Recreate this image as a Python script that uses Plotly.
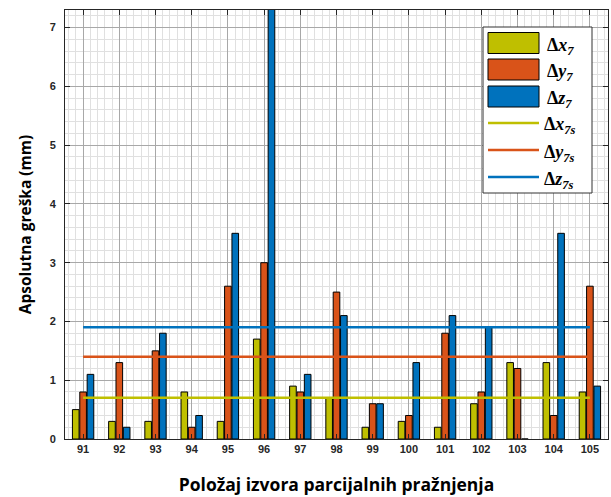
import plotly.graph_objects as go

positions = [91, 92, 93, 94, 95, 96, 97, 98, 99, 100, 101, 102, 103, 104, 105]
dx7 = [0.5, 0.3, 0.3, 0.8, 0.3, 1.7, 0.9, 0.7, 0.2, 0.3, 0.2, 0.6, 1.3, 1.3, 0.8]
dy7 = [0.8, 1.3, 1.5, 0.2, 2.6, 3.0, 0.8, 2.5, 0.6, 0.4, 1.8, 0.8, 1.2, 0.4, 2.6]
dz7 = [1.1, 0.2, 1.8, 0.4, 3.5, 7.6, 1.1, 2.1, 0.6, 1.3, 2.1, 1.9, 0.0, 3.5, 0.9]
mean_x = 0.7
mean_y = 1.4
mean_z = 1.9
ytick_vals = [0, 1, 2, 3, 4, 5, 6, 7]

c_x = "#BFBF00"
c_y = "#D95319"
c_z = "#0072BD"

W, H = 611, 497
ML, MR, MT, MB = 65, 3, 10, 58
PW, PH = W - ML - MR, H - MT - MB


def lab(v, sub):
    return "<b>Δ<i>%s</i><sub><i>%s</i></sub></b>" % (v, sub)


def px(xp):
    return (xp - ML) / PW


def py(yp):
    return (H - MB - yp) / PH


fig = go.Figure()
series = [(dx7, c_x, "x"), (dy7, c_y, "y"), (dz7, c_z, "z")]
for vals, col, name in series:
    fig.add_trace(go.Bar(x=positions, y=vals, name="Δ" + name + "7", showlegend=False,
                         marker=dict(color=col, line=dict(color="black", width=1))))

means = [(mean_x, c_x, "x"), (mean_y, c_y, "y"), (mean_z, c_z, "z")]
for m, col, name in means:
    fig.add_trace(go.Scatter(x=[positions[0], positions[-1]], y=[m, m], mode="lines",
                             name="Δ" + name + "7s", showlegend=False,
                             line=dict(color=col, width=2.5)))

# custom legend (box, swatches, labels) in paper coordinates
shapes = [dict(type="rect", xref="paper", yref="paper", x0=px(483), x1=px(592), y0=py(193), y1=py(27),
               fillcolor="white", line=dict(color="#333333", width=1), layer="above")]
annotations = []
bar_centers = [43, 69.5, 96.5]
line_centers = [123, 150, 177]
for (vals, col, name), cy in zip(series, bar_centers):
    shapes.append(dict(type="rect", xref="paper", yref="paper", x0=px(488), x1=px(539),
                       y0=py(cy + 10.5), y1=py(cy - 10.5), fillcolor=col,
                       line=dict(color="black", width=1), layer="above"))
    annotations.append(dict(xref="paper", yref="paper", x=px(545), y=py(cy + 3), xanchor="left",
                            yanchor="middle", showarrow=False, text=lab(name, "7"),
                            font=dict(family="Liberation Serif", size=18, color="black")))
for (m, col, name), cy in zip(means, line_centers):
    shapes.append(dict(type="line", xref="paper", yref="paper", x0=px(488), x1=px(539),
                       y0=py(cy), y1=py(cy), line=dict(color=col, width=2.5), layer="above"))
    annotations.append(dict(xref="paper", yref="paper", x=px(542), y=py(cy + 3), xanchor="left",
                            yanchor="middle", showarrow=False, text=lab(name, "7s"),
                            font=dict(family="Liberation Serif", size=18, color="black")))

tickfont = dict(family="Liberation Sans", size=11, color="#262626", weight="bold")
xtitlefont = dict(family="Open Sans", size=17.5, color="black", weight="bold")
ytitlefont = dict(family="Open Sans", size=15.5, color="black", weight="bold")

fig.update_layout(
    width=W, height=H,
    margin=dict(l=ML, r=MR, t=MT, b=MB),
    paper_bgcolor="white", plot_bgcolor="white",
    barmode="group", bargap=0.39, bargroupgap=0.1,
    showlegend=False,
    shapes=shapes, annotations=annotations,
    xaxis=dict(range=[90.5, 105.5], tickvals=positions, ticktext=[str(p) for p in positions],
               tickfont=tickfont, ticks="inside", ticklen=5, tickcolor="#262626",
               showline=True, linecolor="#262626", linewidth=1, mirror="ticks",
               showgrid=True, gridcolor="#a8a8a8", gridwidth=1, zeroline=False,
               minor=dict(tick0=91, dtick=0.2, showgrid=True, gridcolor="#e0e0e0", ticks=""),
               title=dict(text="Položaj izvora parcijalnih pražnjenja", font=xtitlefont, standoff=24)),
    yaxis=dict(range=[0, 7.3], tickvals=ytick_vals,
               tickfont=tickfont, ticks="inside", ticklen=5, tickcolor="#262626",
               showline=True, linecolor="#262626", linewidth=1, mirror="ticks",
               showgrid=True, gridcolor="#a8a8a8", gridwidth=1, zeroline=False,
               minor=dict(tick0=0, dtick=0.2, showgrid=True, gridcolor="#e0e0e0", ticks=""),
               ticklabelstandoff=6,
               title=dict(text="Apsolutna greška (mm)", font=ytitlefont, standoff=14)),
)

fig.write_html("out.html", config={"displayModeBar": False},
               post_script="document.body.style.margin='0px';")
